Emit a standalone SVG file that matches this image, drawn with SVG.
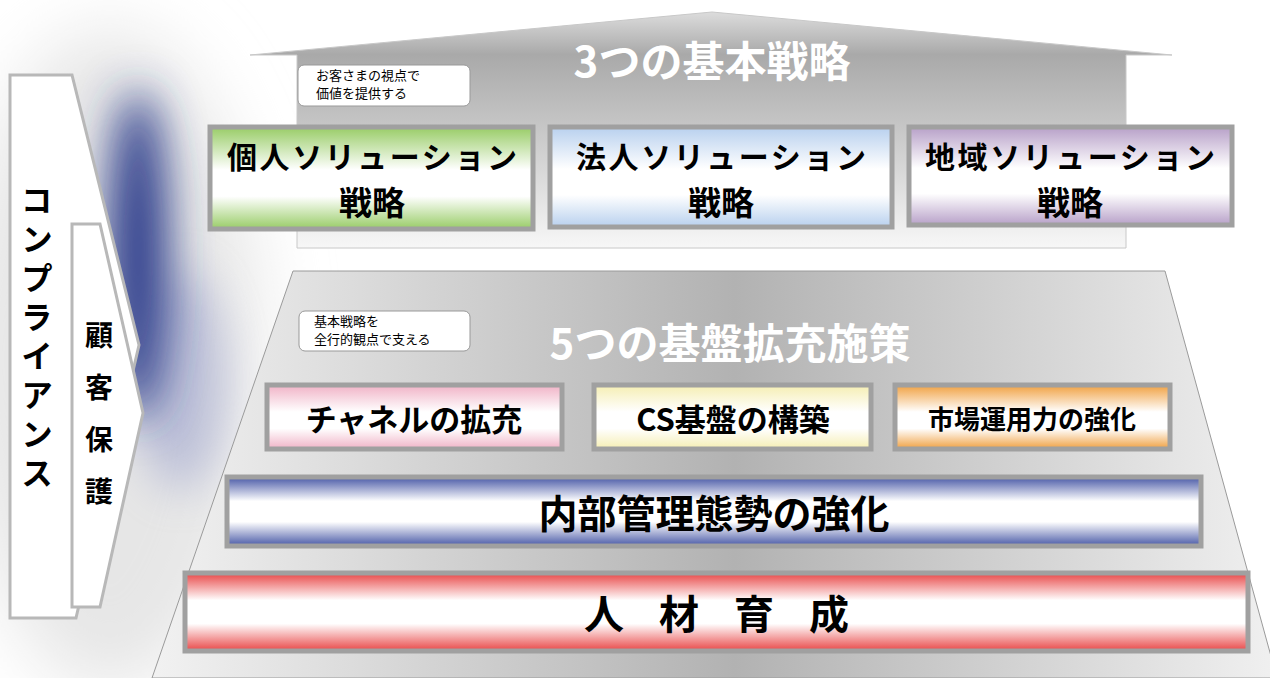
<svg xmlns="http://www.w3.org/2000/svg" width="1270" height="678" viewBox="0 0 1270 678">
<style>
.jp{font-family:"Noto Sans CJK JP","Noto Sans CJK SC",sans-serif;font-weight:bold;fill:#000;text-anchor:middle;dominant-baseline:central}
.title{font-family:"Noto Sans CJK JP",sans-serif;font-weight:bold;fill:#fff;text-anchor:middle;dominant-baseline:central;font-size:42px}
.small{font-family:"Noto Sans CJK JP",sans-serif;font-size:13px;fill:#000}
.frame{stroke:#a0a0a0;stroke-width:5}
.callout{fill:#fff;stroke:#999;stroke-width:1}
.side{fill:#fff;stroke:#b8b8b8;stroke-width:3}
</style>
<defs>
<filter id="blur1" x="-150%" y="-50%" width="400%" height="200%"><feGaussianBlur stdDeviation="22"/></filter>
<filter id="blur2" x="-50%" y="-50%" width="200%" height="200%"><feGaussianBlur stdDeviation="35"/></filter>
<linearGradient id="house" x1="0" y1="12" x2="0" y2="248" gradientUnits="userSpaceOnUse">
<stop offset="0" stop-color="#dcdcdc"/><stop offset="0.18" stop-color="#a9a9a9"/><stop offset="1" stop-color="#f7f7f7"/></linearGradient>
<linearGradient id="trap" x1="150" y1="0" x2="1275" y2="0" gradientUnits="userSpaceOnUse">
<stop offset="0" stop-color="#f2f2f2"/><stop offset="0.52" stop-color="#b2b2b2"/><stop offset="1" stop-color="#f0f0f0"/></linearGradient>
<linearGradient id="gGreen" x1="0" y1="0" x2="0" y2="1"><stop offset="0" stop-color="#98cc66"/><stop offset="0.42" stop-color="#fff"/><stop offset="0.68" stop-color="#fff"/><stop offset="1" stop-color="#98cc66"/></linearGradient>
<linearGradient id="gBlue" x1="0" y1="0" x2="0" y2="1"><stop offset="0" stop-color="#b8d0ee"/><stop offset="0.42" stop-color="#fff"/><stop offset="0.68" stop-color="#fff"/><stop offset="1" stop-color="#b8d0ee"/></linearGradient>
<linearGradient id="gPurple" x1="0" y1="0" x2="0" y2="1"><stop offset="0" stop-color="#b7a0c8"/><stop offset="0.42" stop-color="#fff"/><stop offset="0.68" stop-color="#fff"/><stop offset="1" stop-color="#b7a0c8"/></linearGradient>
<linearGradient id="gPink" x1="0" y1="0" x2="0" y2="1"><stop offset="0" stop-color="#f0b2c6"/><stop offset="0.42" stop-color="#fff"/><stop offset="0.68" stop-color="#fff"/><stop offset="1" stop-color="#f0b2c6"/></linearGradient>
<linearGradient id="gYellow" x1="0" y1="0" x2="0" y2="1"><stop offset="0" stop-color="#f5eeb2"/><stop offset="0.42" stop-color="#fff"/><stop offset="0.68" stop-color="#fff"/><stop offset="1" stop-color="#f5eeb2"/></linearGradient>
<linearGradient id="gOrange" x1="0" y1="0" x2="0" y2="1"><stop offset="0" stop-color="#f0a040"/><stop offset="0.42" stop-color="#fff"/><stop offset="0.68" stop-color="#fff"/><stop offset="1" stop-color="#f0a040"/></linearGradient>
<linearGradient id="gNavy" x1="0" y1="0" x2="0" y2="1"><stop offset="0" stop-color="#4858a6"/><stop offset="0.35" stop-color="#fff"/><stop offset="0.65" stop-color="#fff"/><stop offset="1" stop-color="#4858a6"/></linearGradient>
<linearGradient id="gRed" x1="0" y1="0" x2="0" y2="1"><stop offset="0" stop-color="#e84646"/><stop offset="0.35" stop-color="#fff"/><stop offset="0.65" stop-color="#fff"/><stop offset="1" stop-color="#e84646"/></linearGradient>
</defs>
<rect width="1270" height="678" fill="#fff"/>
<g id="backdrop">
<ellipse cx="110" cy="360" rx="150" ry="330" fill="#e6e6e6" filter="url(#blur2)"/>
<ellipse cx="180" cy="380" rx="45" ry="110" fill="#9aa0cc" opacity="0.55" filter="url(#blur1)"/>
<ellipse cx="138" cy="255" rx="30" ry="165" fill="#2b3b8a" filter="url(#blur1)"/>
</g>
<g id="house">
<path d="M250,55 L712,12 L1172,55 L1126,55 L1126,248 L297,248 L297,55 Z" fill="url(#house)" stroke="#c8c8c8" stroke-width="1"/>
<text class="title" x="712" y="58">3つの基本戦略</text>
<g id="callout1"><rect class="callout" x="298" y="65" width="172" height="41" rx="6"/>
<text class="small" x="316" y="80">お客さまの視点で</text><text class="small" x="316" y="98">価値を提供する</text></g>
</g>
<g id="box-kojin"><rect class="frame" x="210" y="127" width="323" height="102" fill="url(#gGreen)"/>
<text class="jp" font-size="30" x="372" y="155" textLength="290" lengthAdjust="spacing">個人ソリューション</text><text class="jp" font-size="33" x="372" y="201">戦略</text></g>
<g id="box-houjin"><rect class="frame" x="550" y="127" width="342" height="100" fill="url(#gBlue)"/>
<text class="jp" font-size="30" x="721" y="155" textLength="290" lengthAdjust="spacing">法人ソリューション</text><text class="jp" font-size="33" x="721" y="201">戦略</text></g>
<g id="box-chiiki"><rect class="frame" x="909" y="127" width="323" height="98" fill="url(#gPurple)"/>
<text class="jp" font-size="30" x="1070" y="155" textLength="290" lengthAdjust="spacing">地域ソリューション</text><text class="jp" font-size="33" x="1070" y="201">戦略</text></g>
<g id="foundation">
<path d="M293,271 L1165,271 L1277,678 L152,678 Z" fill="url(#trap)" stroke="#9a9a9a" stroke-width="1"/>
<text class="title" x="730" y="340">5つの基盤拡充施策</text>
<g id="callout2"><rect class="callout" x="299" y="311" width="171" height="40" rx="6"/>
<text class="small" x="314" y="326">基本戦略を</text><text class="small" x="314" y="344">全行的観点で支える</text></g>
</g>
<g id="box-channel"><rect class="frame" x="267" y="385" width="295" height="64" fill="url(#gPink)"/>
<text class="jp" font-size="31" x="414" y="417">チャネルの拡充</text></g>
<g id="box-cs"><rect class="frame" x="594" y="385" width="277" height="64" fill="url(#gYellow)"/>
<text class="jp" font-size="31" x="733" y="417">CS基盤の構築</text></g>
<g id="box-market"><rect class="frame" x="895" y="385" width="275" height="64" fill="url(#gOrange)"/>
<text class="jp" font-size="26" x="1032" y="417">市場運用力の強化</text></g>
<g id="box-naibu"><rect class="frame" x="227" y="477" width="974" height="69" fill="url(#gNavy)"/>
<text class="jp" font-size="39" x="714" y="511">内部管理態勢の強化</text></g>
<g id="box-jinzai"><rect class="frame" x="185" y="573" width="1063" height="78" fill="url(#gRed)"/>
<text class="jp" font-size="40" x="734" y="612" letter-spacing="35">人材育成</text></g>
<g id="compliance"><path class="side" d="M10,75 L72,75 L139,345 L76,618 L10,618 Z"/>
<text class="jp" font-size="32" x="37" y="184" writing-mode="vertical-rl" letter-spacing="7" style="text-anchor:start">コンプライアンス</text></g>
<g id="customer-protection"><path class="side" d="M72,224 L100,224 L143,413 L100,607 L72,607 Z"/>
<text class="jp" font-size="28" x="99" y="321" writing-mode="vertical-rl" letter-spacing="24" style="text-anchor:start">顧客保護</text></g>
<g id="connectors"/>
</svg>
